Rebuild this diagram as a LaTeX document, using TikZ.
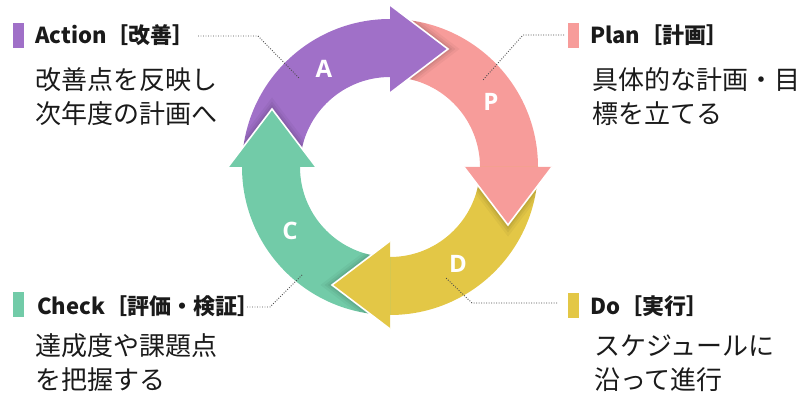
\documentclass[tikz,border=0pt]{standalone}
\usepackage{fontspec}
\newfontfamily\jp{Noto Sans CJK JP}
\newfontfamily\lat{Open Sans}
\definecolor{cA}{HTML}{A070C8}
\definecolor{cP}{HTML}{F79C9A}
\definecolor{cD}{HTML}{E3C746}
\definecolor{cC}{HTML}{72CBA8}
\definecolor{ink}{HTML}{1A1A1A}
\begin{document}
\begin{tikzpicture}[x=1pt,y=-1pt,
  leader/.style={draw=black!70, line width=0.9pt, dash pattern=on 0.9pt off 1.6pt},
  hdr/.style={anchor=base west, inner sep=0, text=ink, font=\jp\bfseries\fontsize{22}{22}\selectfont},
  bodytext/.style={anchor=base west, inner sep=0, align=left, text=ink, font=\jp\fontsize{26}{34}\selectfont},
  letter/.style={text=white, font=\lat\bfseries\fontsize{24}{24}\selectfont, inner sep=0},
  sq/.style={inner sep=0, minimum width=10.5pt, minimum height=25pt, anchor=north west},
  headedge/.style={draw=white, line width=1.6pt, line join=miter},
  shade/.style={draw=black, line cap=butt}]
\path[use as bounding box] (0,0) rectangle (808,398);

\begin{scope}[shift={(390,167)}, yscale=-1]
  % bodies
  \fill[cA] (180:148) arc[start angle=180,end angle=90,radius=148] -- (90:90) arc[start angle=90,end angle=180,radius=90] -- cycle;
  \fill[cP] (90:148) arc[start angle=90,end angle=0,radius=148] -- (0:90) arc[start angle=0,end angle=90,radius=90] -- cycle;
  \fill[cD] (0:148) arc[start angle=0,end angle=-90,radius=148] -- (-90:90) arc[start angle=-90,end angle=0,radius=90] -- cycle;
  \fill[cC] (-90:148) arc[start angle=-90,end angle=-180,radius=148] -- (180:90) arc[start angle=-180,end angle=-90,radius=90] -- cycle;
  % soft shadows under the heads
  \begin{scope}[even odd rule]
    \clip (0,0) circle[radius=148] (0,0) circle[radius=90];
    \foreach \w/\o in {14/0.04,9/0.05,5/0.06}{
      \draw[shade, line width=\w pt, opacity=\o] (90:74) -- (58,118) -- (90:162);
      \draw[shade, line width=\w pt, opacity=\o] (0:74) -- (118,-58) -- (0:162);
      \draw[shade, line width=\w pt, opacity=\o] (-90:74) -- (-58,-118) -- (-90:162);
      \draw[shade, line width=\w pt, opacity=\o] (180:74) -- (-118,58) -- (180:162);
    }
  \end{scope}
  % heads
  \fill[cA] (90:74) -- (58,118) -- (90:162) -- cycle;
  \draw[headedge] (90:74) -- (58,118) -- (90:162);
  \fill[cP] (0:74) -- (118,-58) -- (0:162) -- cycle;
  \draw[headedge] (0:74) -- (118,-58) -- (0:162);
  \fill[cD] (-90:74) -- (-58,-118) -- (-90:162) -- cycle;
  \draw[headedge] (-90:74) -- (-58,-118) -- (-90:162);
  \fill[cC] (180:74) -- (-118,58) -- (180:162) -- cycle;
  \draw[headedge] (180:74) -- (-118,58) -- (180:162);
\end{scope}

% letters
\node[letter] (la) at (324,69) {A};
\node[letter] (lp) at (491,102) {P};
\node[letter] (ld) at (458,264) {D};
\node[letter] (lc) at (290,231) {C};

% leaders
\coordinate (a1) at (198,36); \coordinate (a2) at (258,36); \coordinate (a3) at (299,78);
\coordinate (p1) at (564,35); \coordinate (p2) at (523,35); \coordinate (p3) at (483,80);
\coordinate (d1) at (557,303); \coordinate (d2) at (472,303); \coordinate (d3) at (445,277);
\coordinate (c1) at (247,307); \coordinate (c2) at (270,307); \coordinate (c3) at (302,275);
\draw[leader] (a1) -- (a2) -- (a3);
\draw[leader] (p1) -- (p2) -- (p3);
\draw[leader] (d1) -- (d2) -- (d3);
\draw[leader] (c1) -- (c2) -- (c3);

% squares
\node[sq, fill=cA] (sa) at (13,23) {};
\node[sq, fill=cP] (sp) at (568,23) {};
\node[sq, fill=cC] (sc) at (13,292) {};
\node[sq, fill=cD] (sd) at (568,293) {};

% headers
\node[hdr] (ha) at (35,44) {Action［改善］};
\node[hdr] (hp) at (590,44) {Plan［計画］};
\node[hdr] (hc) at (37,314) {Check［評価・検証］};
\node[hdr] (hd) at (590,314) {Do［実行］};

% body texts (anchor at the baseline of the last line)
\node[bodytext] (ba) at (35,124) {改善点を反映し\\次年度の計画へ};
\node[bodytext] (bp) at (592,124) {具体的な計画・目\\標を立てる};
\node[bodytext] (bc) at (35,389) {達成度や課題点\\を把握する};
\node[bodytext] (bd) at (594,389) {スケジュールに\\沿って進行};
\end{tikzpicture}
\end{document}
